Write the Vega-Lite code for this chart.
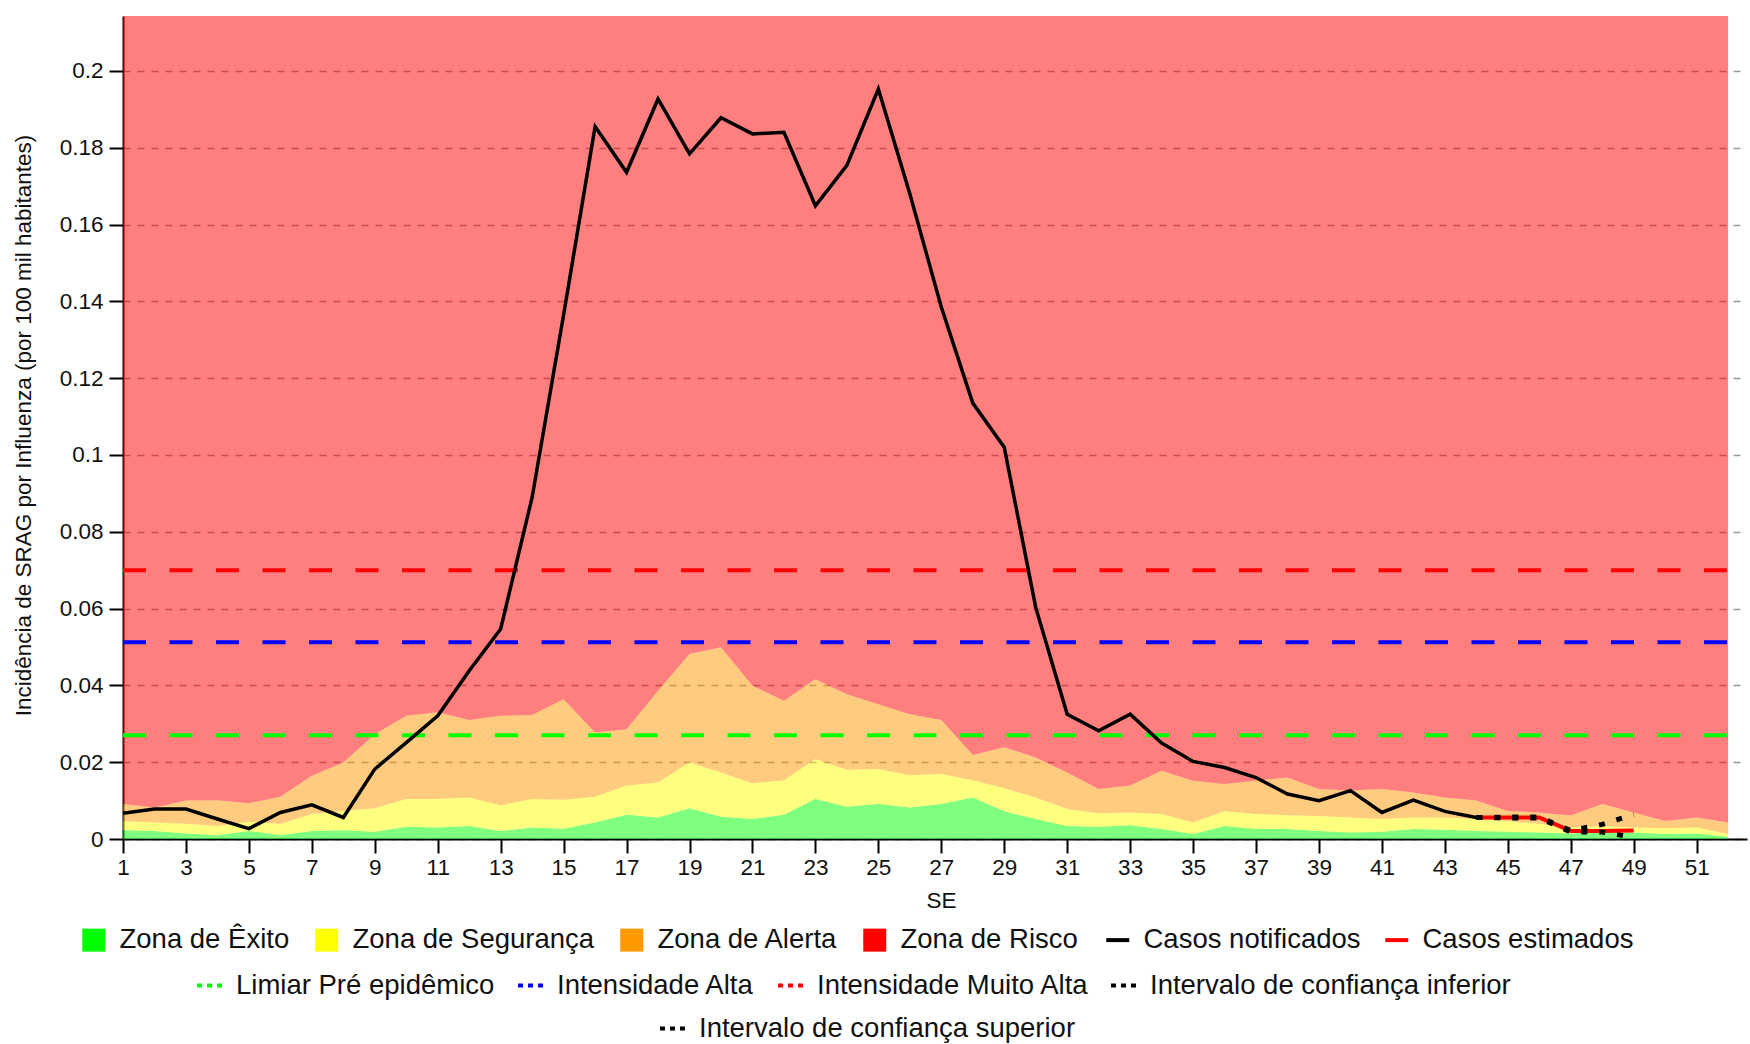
{
  "$schema": "https://vega.github.io/schema/vega-lite/v6.json",
  "width": 1624,
  "height": 823,
  "autosize": {"type": "none"},
  "padding": {"left": 123, "top": 16, "right": 3, "bottom": 205},
  "background": "white",
  "config": {
    "font": "Liberation Sans",
    "view": {"stroke": null},
    "axis": {
      "labelFont": "Liberation Sans",
      "titleFont": "Liberation Sans",
      "labelColor": "#111111",
      "titleColor": "#111111",
      "domainColor": "#000000",
      "tickColor": "#000000",
      "domainWidth": 2,
      "tickWidth": 2,
      "tickSize": 14,
      "labelFontSize": 22.5,
      "titleFontSize": 22.5,
      "titleFontWeight": "normal"
    },
    "legend": {
      "labelFont": "Liberation Sans",
      "labelFontSize": 27.5,
      "labelColor": "#111111",
      "labelOffset": 12,
      "labelLimit": 900,
      "columnPadding": 18,
      "padding": 0,
      "symbolOpacity": 1
    }
  },
  "datasets": {
    "zonas": [
      {"se": 1, "exito": 0.0023, "seguranca": 0.0046, "alerta": 0.0091},
      {"se": 2, "exito": 0.0021, "seguranca": 0.0043, "alerta": 0.0082},
      {"se": 3, "exito": 0.0014, "seguranca": 0.0040, "alerta": 0.0100},
      {"se": 4, "exito": 0.0010, "seguranca": 0.0034, "alerta": 0.0101},
      {"se": 5, "exito": 0.0021, "seguranca": 0.0045, "alerta": 0.0093},
      {"se": 6, "exito": 0.0010, "seguranca": 0.0039, "alerta": 0.0110},
      {"se": 7, "exito": 0.0021, "seguranca": 0.0065, "alerta": 0.0165},
      {"se": 8, "exito": 0.0023, "seguranca": 0.0073, "alerta": 0.0199},
      {"se": 9, "exito": 0.0019, "seguranca": 0.0080, "alerta": 0.0273},
      {"se": 10, "exito": 0.0032, "seguranca": 0.0104, "alerta": 0.0321},
      {"se": 11, "exito": 0.0030, "seguranca": 0.0104, "alerta": 0.0330},
      {"se": 12, "exito": 0.0034, "seguranca": 0.0108, "alerta": 0.0310},
      {"se": 13, "exito": 0.0021, "seguranca": 0.0088, "alerta": 0.0321},
      {"se": 14, "exito": 0.0030, "seguranca": 0.0104, "alerta": 0.0323},
      {"se": 15, "exito": 0.0027, "seguranca": 0.0102, "alerta": 0.0364},
      {"se": 16, "exito": 0.0043, "seguranca": 0.0110, "alerta": 0.0277},
      {"se": 17, "exito": 0.0063, "seguranca": 0.0139, "alerta": 0.0286},
      {"se": 18, "exito": 0.0056, "seguranca": 0.0147, "alerta": 0.0386},
      {"se": 19, "exito": 0.0080, "seguranca": 0.0199, "alerta": 0.0482},
      {"se": 20, "exito": 0.0058, "seguranca": 0.0173, "alerta": 0.0499},
      {"se": 21, "exito": 0.0052, "seguranca": 0.0145, "alerta": 0.0399},
      {"se": 22, "exito": 0.0063, "seguranca": 0.0153, "alerta": 0.0360},
      {"se": 23, "exito": 0.0104, "seguranca": 0.0208, "alerta": 0.0416},
      {"se": 24, "exito": 0.0084, "seguranca": 0.0180, "alerta": 0.0377},
      {"se": 25, "exito": 0.0091, "seguranca": 0.0182, "alerta": 0.0351},
      {"se": 26, "exito": 0.0082, "seguranca": 0.0166, "alerta": 0.0325},
      {"se": 27, "exito": 0.0091, "seguranca": 0.0169, "alerta": 0.0310},
      {"se": 28, "exito": 0.0108, "seguranca": 0.0153, "alerta": 0.0219},
      {"se": 29, "exito": 0.0072, "seguranca": 0.0132, "alerta": 0.0239},
      {"se": 30, "exito": 0.0052, "seguranca": 0.0108, "alerta": 0.0212},
      {"se": 31, "exito": 0.0034, "seguranca": 0.0078, "alerta": 0.0173},
      {"se": 32, "exito": 0.0032, "seguranca": 0.0067, "alerta": 0.0130},
      {"se": 33, "exito": 0.0036, "seguranca": 0.0069, "alerta": 0.0139},
      {"se": 34, "exito": 0.0026, "seguranca": 0.0065, "alerta": 0.0178},
      {"se": 35, "exito": 0.0013, "seguranca": 0.0043, "alerta": 0.0152},
      {"se": 36, "exito": 0.0034, "seguranca": 0.0072, "alerta": 0.0143},
      {"se": 37, "exito": 0.0026, "seguranca": 0.0065, "alerta": 0.0152},
      {"se": 38, "exito": 0.0026, "seguranca": 0.0062, "alerta": 0.0160},
      {"se": 39, "exito": 0.0021, "seguranca": 0.0060, "alerta": 0.0130},
      {"se": 40, "exito": 0.0017, "seguranca": 0.0056, "alerta": 0.0126},
      {"se": 41, "exito": 0.0019, "seguranca": 0.0052, "alerta": 0.0130},
      {"se": 42, "exito": 0.0026, "seguranca": 0.0056, "alerta": 0.0121},
      {"se": 43, "exito": 0.0024, "seguranca": 0.0056, "alerta": 0.0108},
      {"se": 44, "exito": 0.0021, "seguranca": 0.0052, "alerta": 0.0100},
      {"se": 45, "exito": 0.0019, "seguranca": 0.0046, "alerta": 0.0073},
      {"se": 46, "exito": 0.0017, "seguranca": 0.0040, "alerta": 0.0069},
      {"se": 47, "exito": 0.0014, "seguranca": 0.0030, "alerta": 0.0061},
      {"se": 48, "exito": 0.0018, "seguranca": 0.0034, "alerta": 0.0091},
      {"se": 49, "exito": 0.0017, "seguranca": 0.0030, "alerta": 0.0069},
      {"se": 50, "exito": 0.0013, "seguranca": 0.0028, "alerta": 0.0047},
      {"se": 51, "exito": 0.0014, "seguranca": 0.0030, "alerta": 0.0056},
      {"se": 52, "exito": 0.0006, "seguranca": 0.0013, "alerta": 0.0043}
    ],
    "notificados": [
      {"se": 1, "valor": 0.0067}, {"se": 2, "valor": 0.0078}, {"se": 3, "valor": 0.0078},
      {"se": 4, "valor": 0.0052}, {"se": 5, "valor": 0.0027}, {"se": 6, "valor": 0.0069},
      {"se": 7, "valor": 0.0089}, {"se": 8, "valor": 0.0056}, {"se": 9, "valor": 0.0182},
      {"se": 10, "valor": 0.0251}, {"se": 11, "valor": 0.0321}, {"se": 12, "valor": 0.0438},
      {"se": 13, "valor": 0.0547}, {"se": 14, "valor": 0.0890}, {"se": 15, "valor": 0.1365},
      {"se": 16, "valor": 0.1855}, {"se": 17, "valor": 0.1736}, {"se": 18, "valor": 0.1927},
      {"se": 19, "valor": 0.1784}, {"se": 20, "valor": 0.1878}, {"se": 21, "valor": 0.1836},
      {"se": 22, "valor": 0.1840}, {"se": 23, "valor": 0.1649}, {"se": 24, "valor": 0.1754},
      {"se": 25, "valor": 0.1953}, {"se": 26, "valor": 0.1680}, {"se": 27, "valor": 0.1385},
      {"se": 28, "valor": 0.1135}, {"se": 29, "valor": 0.1020}, {"se": 30, "valor": 0.0603},
      {"se": 31, "valor": 0.0325}, {"se": 32, "valor": 0.0282}, {"se": 33, "valor": 0.0325},
      {"se": 34, "valor": 0.0250}, {"se": 35, "valor": 0.0202}, {"se": 36, "valor": 0.0186},
      {"se": 37, "valor": 0.0160}, {"se": 38, "valor": 0.0117}, {"se": 39, "valor": 0.0100},
      {"se": 40, "valor": 0.0126}, {"se": 41, "valor": 0.0069}, {"se": 42, "valor": 0.0101},
      {"se": 43, "valor": 0.0072}, {"se": 44, "valor": 0.0056}
    ],
    "estimados": [
      {"se": 44, "estimado": 0.0056, "ic_inf": 0.0056, "ic_sup": 0.0056},
      {"se": 45, "estimado": 0.0056, "ic_inf": 0.0055, "ic_sup": 0.0057},
      {"se": 46, "estimado": 0.0056, "ic_inf": 0.0055, "ic_sup": 0.0057},
      {"se": 47, "estimado": 0.0021, "ic_inf": 0.0018, "ic_sup": 0.0022},
      {"se": 48, "estimado": 0.0021, "ic_inf": 0.0018, "ic_sup": 0.0038},
      {"se": 49, "estimado": 0.0022, "ic_inf": 0.0004, "ic_sup": 0.0064}
    ],
    "limiares": [
      {"nome": "Limiar Pré epidêmico", "valor": 0.027},
      {"nome": "Intensidade Alta", "valor": 0.0512},
      {"nome": "Intensidade Muito Alta", "valor": 0.070}
    ]
  },
  "layer": [
    {
      "data": {"name": "zonas"},
      "layer": [
        {
          "mark": {"type": "area", "opacity": 0.5},
          "encoding": {
            "x": {
              "field": "se", "type": "quantitative", "title": "SE",
              "scale": {"domain": [1, 52.6], "nice": false, "zero": false},
              "axis": {
                "values": [1, 3, 5, 7, 9, 11, 13, 15, 17, 19, 21, 23, 25, 27, 29, 31, 33, 35, 37, 39, 41, 43, 45, 47, 49, 51],
                "title": "SE", "titleX": 818, "titleY": 61, "titleBaseline": "middle", "titleAlign": "center",
                "grid": false, "labelPadding": 3, "labelFlush": false, "labelOverlap": false
              }
            },
            "y": {
              "field": "exito", "type": "quantitative", "stack": null,
              "title": "Incidência de SRAG por Influenza (por 100 mil habitantes)",
              "scale": {"domain": [0, 0.2143], "nice": false, "zero": true},
              "axis": {
                "values": [0, 0.02, 0.04, 0.06, 0.08, 0.1, 0.12, 0.14, 0.16, 0.18, 0.2],
                "format": "~g",
                "title": "Incidência de SRAG por Influenza (por 100 mil habitantes)",
                "titleX": -100, "titleY": 409, "titleAngle": -90, "titleAlign": "center", "titleBaseline": "middle",
                "grid": true, "gridDash": [7, 7], "gridColor": "#999999", "gridWidth": 1.5,
                "labelPadding": 6, "labelOverlap": false
              }
            },
            "color": {
              "datum": "Zona de Êxito", "type": "nominal",
              "scale": {
                "domain": ["Zona de Êxito", "Zona de Segurança", "Zona de Alerta", "Zona de Risco"],
                "range": ["#00ff00", "#ffff00", "#ff9900", "#ff0000"]
              },
              "legend": {
                "title": null, "orient": "none", "direction": "horizontal",
                "legendX": -43, "legendY": 910, "columnPadding": 23,
                "symbolType": "square", "symbolSize": 529, "symbolStrokeWidth": 0
              }
            }
          }
        },
        {
          "mark": {"type": "area", "opacity": 0.5},
          "encoding": {
            "x": {"field": "se", "type": "quantitative", "title": "SE", "scale": {"domain": [1, 52.6], "nice": false, "zero": false}},
            "y": {"field": "seguranca", "type": "quantitative", "stack": null, "title": "Incidência de SRAG por Influenza (por 100 mil habitantes)", "scale": {"domain": [0, 0.2143], "nice": false, "zero": true}},
            "y2": {"field": "exito"},
            "color": {"datum": "Zona de Segurança", "type": "nominal"}
          }
        },
        {
          "mark": {"type": "area", "opacity": 0.5},
          "encoding": {
            "x": {"field": "se", "type": "quantitative", "title": "SE", "scale": {"domain": [1, 52.6], "nice": false, "zero": false}},
            "y": {"field": "alerta", "type": "quantitative", "stack": null, "title": "Incidência de SRAG por Influenza (por 100 mil habitantes)", "scale": {"domain": [0, 0.2143], "nice": false, "zero": true}},
            "y2": {"field": "seguranca"},
            "color": {"datum": "Zona de Alerta", "type": "nominal"}
          }
        },
        {
          "mark": {"type": "area", "opacity": 0.5},
          "encoding": {
            "x": {"field": "se", "type": "quantitative", "title": "SE", "scale": {"domain": [1, 52.6], "nice": false, "zero": false}},
            "y": {"field": "alerta", "type": "quantitative", "stack": null, "title": "Incidência de SRAG por Influenza (por 100 mil habitantes)", "scale": {"domain": [0, 0.2143], "nice": false, "zero": true}},
            "y2": {"datum": 0.2143},
            "color": {"datum": "Zona de Risco", "type": "nominal"}
          }
        }
      ]
    },
    {
      "data": {"name": "limiares"},
      "mark": {"type": "rule", "strokeWidth": 4, "strokeDash": [23, 23.5]},
      "encoding": {
        "x": {"datum": 1, "type": "quantitative", "title": "SE", "scale": {"domain": [1, 52.6], "nice": false, "zero": false}},
        "x2": {"datum": 52},
        "y": {"field": "valor", "type": "quantitative", "title": "Incidência de SRAG por Influenza (por 100 mil habitantes)", "scale": {"domain": [0, 0.2143], "nice": false, "zero": true}},
        "color": {
          "field": "nome", "type": "nominal",
          "scale": {
            "domain": ["Limiar Pré epidêmico", "Intensidade Alta", "Intensidade Muito Alta"],
            "range": ["#00ff00", "#0000ff", "#ff0000"]
          },
          "legend": {
            "title": null, "orient": "none", "direction": "horizontal",
            "legendX": 72, "legendY": 955, "columnPadding": 15,
            "symbolType": "stroke", "symbolSize": 625, "symbolStrokeWidth": 4, "symbolDash": [5, 5]
          }
        }
      }
    },
    {
      "layer": [
        {
          "data": {"name": "notificados"},
          "mark": {"type": "line", "strokeWidth": 3.5},
          "encoding": {
            "x": {"field": "se", "type": "quantitative", "title": "SE", "scale": {"domain": [1, 52.6], "nice": false, "zero": false}},
            "y": {"field": "valor", "type": "quantitative", "title": "Incidência de SRAG por Influenza (por 100 mil habitantes)", "scale": {"domain": [0, 0.2143], "nice": false, "zero": true}},
            "color": {
              "datum": "Casos notificados", "type": "nominal",
              "scale": {"domain": ["Casos notificados", "Casos estimados"], "range": ["#000000", "#ff0000"]},
              "legend": {
                "title": null, "orient": "none", "direction": "horizontal",
                "legendX": 981, "legendY": 910, "columnPadding": 16,
                "symbolType": "stroke", "symbolSize": 529, "symbolStrokeWidth": 4
              }
            }
          }
        },
        {
          "data": {"name": "estimados"},
          "mark": {"type": "line", "strokeWidth": 4},
          "encoding": {
            "x": {"field": "se", "type": "quantitative", "title": "SE", "scale": {"domain": [1, 52.6], "nice": false, "zero": false}},
            "y": {"field": "estimado", "type": "quantitative", "title": "Incidência de SRAG por Influenza (por 100 mil habitantes)", "scale": {"domain": [0, 0.2143], "nice": false, "zero": true}},
            "color": {"datum": "Casos estimados", "type": "nominal"}
          }
        }
      ]
    },
    {
      "data": {"name": "estimados"},
      "mark": {"type": "line", "strokeWidth": 5, "strokeDash": [6, 12]},
      "encoding": {
        "x": {"field": "se", "type": "quantitative", "title": "SE", "scale": {"domain": [1, 52.6], "nice": false, "zero": false}},
        "y": {"field": "ic_inf", "type": "quantitative", "title": "Incidência de SRAG por Influenza (por 100 mil habitantes)", "scale": {"domain": [0, 0.2143], "nice": false, "zero": true}},
        "color": {
          "datum": "Intervalo de confiança inferior", "type": "nominal",
          "scale": {"domain": ["Intervalo de confiança inferior"], "range": ["#000000"]},
          "legend": {
            "title": null, "orient": "none", "direction": "horizontal",
            "legendX": 986, "legendY": 955,
            "symbolType": "stroke", "symbolSize": 625, "symbolStrokeWidth": 4, "symbolDash": [5, 5]
          }
        }
      }
    },
    {
      "data": {"name": "estimados"},
      "mark": {"type": "line", "strokeWidth": 5, "strokeDash": [6, 12]},
      "encoding": {
        "x": {"field": "se", "type": "quantitative", "title": "SE", "scale": {"domain": [1, 52.6], "nice": false, "zero": false}},
        "y": {"field": "ic_sup", "type": "quantitative", "title": "Incidência de SRAG por Influenza (por 100 mil habitantes)", "scale": {"domain": [0, 0.2143], "nice": false, "zero": true}},
        "color": {
          "datum": "Intervalo de confiança superior", "type": "nominal",
          "scale": {"domain": ["Intervalo de confiança superior"], "range": ["#000000"]},
          "legend": {
            "title": null, "orient": "none", "direction": "horizontal",
            "legendX": 535, "legendY": 998,
            "symbolType": "stroke", "symbolSize": 625, "symbolStrokeWidth": 4, "symbolDash": [5, 5]
          }
        }
      }
    }
  ],
  "resolve": {"scale": {"color": "independent"}}
}
